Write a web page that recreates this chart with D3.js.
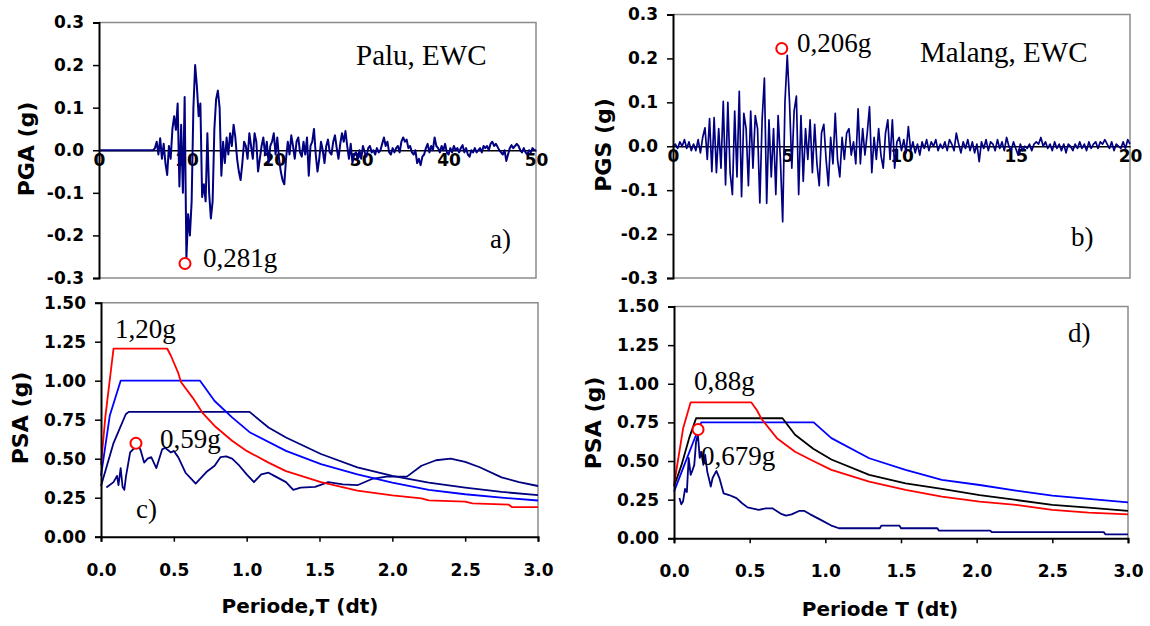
<!DOCTYPE html>
<html>
<head>
<meta charset="utf-8">
<title>Palu / Malang EWC</title>
<script src="https://cdn.jsdelivr.net/npm/d3@7"></script>
<style>
  html, body { margin: 0; padding: 0; background: #fff; }
  svg { display: block; }
  .tick text { font-family: "DejaVu Sans", sans-serif; font-weight: bold; font-size: 17px; fill: #000; }
  .axis-title { font-family: "DejaVu Sans", sans-serif; font-weight: bold; font-size: 20px; fill: #000; }
  .y-title { font-size: 22px; }
  .note { font-family: "Liberation Serif", "Times New Roman", serif; font-size: 27px; fill: #000; }
</style>
</head>
<body>
<div id="chart"></div>
<script>
// ---- a) Palu accelerogram (g), sampled every 0.2 s from 6.0 s; flat zero before
const paluStart = 6.0;
const paluDt = 0.2;
const paluAcc = [
  0, 0, 0.005, 0.02, -0.01, 0.028, -0.02, 0.015, -0.03, -0.058,
  0.01, -0.02, 0.05, 0.08, 0.048, 0.11, -0.085, 0.06, -0.1, 0.125,
  -0.254, -0.15, -0.2, -0.12, 0.1, 0.2, 0.15, 0.08, 0.11, -0.11,
  -0.08, -0.12, 0.04, -0.1, -0.16, -0.12, 0.05, 0.12, 0.14, 0.1,
  -0.06, 0.02, -0.03, 0.03, -0.01, 0.04, 0.01, 0.06, 0.03, -0.02,
  -0.05, -0.07, -0.03, 0.02, 0.01, -0.02, 0.04, 0.01, -0.02, 0.04,
  0.02, -0.05, -0.02, 0.01, 0.03, -0.01, 0.02, -0.03, 0.01, 0.02,
  0.04, -0.01, 0.03, -0.02, -0.05, -0.07, -0.08, -0.02, 0.02, -0.01,
  0.035, 0.01, -0.02, 0.02, 0.03, -0.005, -0.015, 0.02, -0.01, 0.03,
  -0.06, 0.01, 0.02, 0.05, -0.01, -0.05, -0.02, 0.02, 0.0, -0.03,
  0.01, 0.025, -0.005, -0.01, 0.02, 0.035, 0.005, -0.02, 0.015, 0.04,
  0.02, 0.045, 0.01, -0.02, 0.015, -0.03, -0.01, -0.005, -0.02, 0.0,
  -0.02, 0.01, -0.005, -0.015, 0.005, 0.01, -0.005, 0.0, -0.01, 0.005,
  -0.005, 0.0, 0.015, 0.03, 0.01, 0.02, -0.005, -0.01, 0.005, -0.005,
  0.005, 0.01, -0.005, 0.02, 0.03, 0.02, 0.025, 0.005, 0.01, -0.005,
  -0.01, 0.0, -0.03, -0.02, -0.035, -0.015, -0.01, 0.005, 0.015, -0.005,
  0.01, 0.0, 0.03, 0.01, 0.005, -0.005, 0.01, 0.0, 0.015, -0.005,
  -0.01, 0.005, -0.005, 0.01, 0.0, 0.005, -0.005, 0.005, 0.012, -0.005,
  0.005, -0.01, -0.015, 0.0, -0.005, 0.005, -0.005, 0.0, 0.005, -0.005,
  0.01, 0.005, 0.01, 0.0, 0.015, 0.02, 0.01, 0.015, 0.008, 0.0,
  -0.005, -0.01, 0.0, -0.025, -0.01, 0.005, 0.012, 0.005, 0.01, 0.015,
  0.01, 0.0, -0.005, 0.005, -0.005, -0.01, 0.0, -0.005, 0.005, 0.0,
  0.0
];

// ---- b) Malang accelerogram (g), sampled every 0.1 s from 0 s
const malangDt = 0.1;
const malangAcc = [
  0.0, 0.005, -0.005, 0.01, 0.0, 0.015, -0.005, 0.01, -0.01, 0.005,
  -0.01, 0.015, -0.015, 0.02, 0.042, -0.03, 0.063, -0.058, 0.065, -0.06,
  0.04, -0.05, 0.102, -0.088, 0.1, -0.06, -0.11, 0.08, -0.07, 0.125,
  -0.115, 0.075, 0.04, -0.09, 0.08, -0.05, 0.07, 0.04, -0.129, 0.06,
  0.155, -0.13, 0.06, -0.07, 0.04, -0.11, 0.07, -0.03, -0.172, 0.1,
  0.207, 0.1, -0.05, 0.08, 0.114, -0.11, 0.07, -0.08, 0.04, -0.03,
  0.06, -0.06, 0.05, -0.04, -0.09, 0.03, 0.05, -0.03, -0.09, 0.02,
  -0.04, 0.075, -0.03, -0.07, 0.02, -0.03, 0.03, 0.04, -0.02, 0.01,
  -0.04, 0.085, -0.04, 0.04, -0.02, 0.03, 0.09, -0.06, 0.02, -0.03,
  0.04, -0.02, -0.05, 0.03, 0.06, -0.03, 0.06, -0.05, 0.01, 0.02,
  -0.01, 0.015, -0.015, 0.045, -0.01, 0.01, -0.015, 0.005, -0.02, 0.01,
  -0.005, 0.015, -0.01, 0.01, 0.0, 0.015, -0.01, 0.005, -0.005, 0.01,
  -0.01, 0.015, 0.005, -0.01, 0.03, 0.005, -0.015, 0.01, -0.005, 0.015,
  -0.01, 0.01, -0.015, 0.005, -0.035, 0.01, -0.005, 0.015, -0.01, 0.01,
  0.005, -0.01, 0.015, -0.005, 0.01, -0.01, 0.02, 0.0, -0.01, 0.01,
  -0.005, -0.02, 0.005, -0.01, 0.0, -0.005, 0.005, -0.01, 0.005, 0.01,
  0.005, 0.02, 0.0, 0.01, -0.005, 0.005, -0.01, 0.01, -0.005, 0.005,
  -0.01, 0.005, -0.015, 0.005, 0.0, -0.01, 0.005, -0.005, 0.01, -0.005,
  0.005, -0.01, 0.01, -0.005, 0.005, 0.01, -0.005, 0.01, 0.005, 0.015,
  0.005, -0.005, 0.01, -0.01, 0.005, 0.0, -0.005, 0.01, -0.005, 0.015,
  0.005
];

// ---- c) Palu spectra [period T, PSA g]
const paluDesign120 = [[0,0.46],[0.03,0.77],[0.086,1.205],[0.455,1.205],[0.48,1.16],[0.53,1.05],[0.55,0.99],[0.63,0.89],[0.70,0.79],[0.78,0.71],[0.9,0.615],[1.0,0.55],[1.15,0.475],[1.27,0.42],[1.51,0.35],[1.76,0.295],[2.0,0.265],[2.2,0.245],[2.25,0.233],[2.5,0.225],[2.55,0.214],[2.8,0.205],[2.82,0.19],[3.0,0.19]];
const paluDesign100 = [[0,0.39],[0.06,0.775],[0.135,1.0],[0.68,1.0],[0.78,0.87],[0.9,0.765],[1.02,0.67],[1.27,0.55],[1.51,0.465],[1.76,0.40],[2.0,0.347],[2.25,0.30],[2.5,0.272],[2.75,0.25],[3.0,0.232]];
const paluDesign080 = [[0,0.325],[0.086,0.6],[0.17,0.785],[0.19,0.80],[1.02,0.80],[1.15,0.70],[1.27,0.636],[1.51,0.53],[1.76,0.445],[2.0,0.39],[2.25,0.347],[2.5,0.315],[2.75,0.287],[3.0,0.266]];
const paluResponse = [[0.037,0.315],[0.086,0.35],[0.11,0.39],[0.12,0.33],[0.135,0.44],[0.148,0.32],[0.16,0.30],[0.172,0.39],[0.2,0.54],[0.22,0.56],[0.245,0.59],[0.27,0.56],[0.296,0.475],[0.32,0.50],[0.345,0.51],[0.38,0.44],[0.42,0.56],[0.44,0.57],[0.48,0.54],[0.5,0.55],[0.53,0.51],[0.58,0.41],[0.62,0.37],[0.65,0.34],[0.68,0.37],[0.73,0.42],[0.78,0.455],[0.82,0.51],[0.86,0.515],[0.9,0.50],[0.95,0.455],[1.0,0.40],[1.05,0.35],[1.1,0.40],[1.15,0.41],[1.19,0.39],[1.27,0.35],[1.32,0.30],[1.37,0.315],[1.47,0.32],[1.56,0.35],[1.66,0.336],[1.76,0.33],[1.86,0.37],[1.96,0.385],[2.1,0.385],[2.2,0.455],[2.3,0.49],[2.4,0.50],[2.5,0.48],[2.6,0.445],[2.75,0.38],[2.87,0.35],[3.0,0.325]];

// ---- d) Malang spectra [period T, PSA g]
const malangDesign088 = [[0,0.345],[0.06,0.71],[0.11,0.88],[0.51,0.88],[0.547,0.83],[0.58,0.77],[0.68,0.648],[0.8,0.56],[0.92,0.5],[1.04,0.443],[1.29,0.367],[1.53,0.313],[1.77,0.27],[2.02,0.237],[2.26,0.216],[2.5,0.184],[2.74,0.166],[3.0,0.155]];
const malangDesign078 = [[0,0.335],[0.05,0.475],[0.1,0.648],[0.146,0.777],[0.717,0.777],[0.8,0.67],[0.92,0.58],[1.04,0.51],[1.29,0.41],[1.53,0.356],[1.77,0.32],[2.02,0.28],[2.26,0.248],[2.5,0.216],[2.74,0.199],[3.0,0.177]];
const malangDesign075 = [[0,0.302],[0.073,0.486],[0.146,0.67],[0.18,0.75],[0.923,0.75],[1.04,0.648],[1.29,0.518],[1.53,0.443],[1.77,0.378],[2.02,0.345],[2.26,0.309],[2.5,0.276],[2.74,0.255],[3.0,0.233]];
const malangResponse = [[0.036,0.26],[0.048,0.22],[0.06,0.24],[0.073,0.32],[0.085,0.30],[0.097,0.52],[0.11,0.41],[0.122,0.44],[0.134,0.475],[0.146,0.626],[0.158,0.67],[0.17,0.52],[0.18,0.56],[0.194,0.475],[0.206,0.54],[0.22,0.43],[0.23,0.39],[0.243,0.335],[0.255,0.39],[0.28,0.436],[0.3,0.39],[0.328,0.29],[0.364,0.28],[0.413,0.26],[0.45,0.227],[0.486,0.20],[0.56,0.184],[0.607,0.194],[0.65,0.194],[0.704,0.16],[0.74,0.147],[0.777,0.155],[0.826,0.177],[0.862,0.177],[0.9,0.155],[0.97,0.119],[1.045,0.08],[1.09,0.065],[1.36,0.065],[1.37,0.082],[1.49,0.082],[1.5,0.065],[1.74,0.065],[1.75,0.05],[2.09,0.05],[2.1,0.04],[2.84,0.04],[2.85,0.026],[3.0,0.026]];

// ---- peak markers [x, y]
const paluPeak = [9.84, -0.266];
const malangPeak = [4.76, 0.2226];
const paluPsaPeak = [0.24, 0.599];
const malangPsaPeak = [0.159, 0.704];

// ---- tick values
const accTicks = [-0.3, -0.2, -0.1, 0.0, 0.1, 0.2, 0.3];
const psaTicks = [0, 0.25, 0.5, 0.75, 1.0, 1.25, 1.5];
const paluTimeTicks = [0, 10, 20, 30, 40, 50];
const malangTimeTicks = [0, 5, 10, 15, 20];
const periodTicks = [0, 0.5, 1.0, 1.5, 2.0, 2.5, 3.0];

const NAVY = "#000080", RED = "#ff0000", BLUE = "#0000ff", BLACK = "#000000";

const svg = d3.select("#chart").append("svg")
  .attr("width", 1150).attr("height", 626);
svg.append("rect").attr("width", 1150).attr("height", 626).attr("fill", "#fff");

const paluPoints = [[0, 0]].concat(paluAcc.map((v, i) => [paluStart + i * paluDt, v]));
const malangPoints = malangAcc.map((v, i) => [i * malangDt, v]);

const panels = [
  {
    left: 99, right: 536, top: 22.5, bottom: 278, xAtZero: true,
    xDomain: [0, 50], yDomain: [-0.3, 0.3],
    xTicks: paluTimeTicks, xFormat: d => String(d),
    yTicks: accTicks, yFormat: d => d.toFixed(1),
    yTitle: "PGA (g)", yTitlePos: [26, 149],
    series: [{ points: paluPoints, color: NAVY, width: 2 }],
    peak: paluPeak,
    notes: [["Palu, EWC", 356, 65, 29], ["a)", 490, 248, 27], ["0,281g", 203, 267, 27]]
  },
  {
    left: 673, right: 1130, top: 14.5, bottom: 278, xAtZero: true,
    xDomain: [0, 20], yDomain: [-0.3, 0.3],
    xTicks: malangTimeTicks, xFormat: d => String(d),
    yTicks: accTicks, yFormat: d => d.toFixed(1),
    yTitle: "PGS (g)", yTitlePos: [603, 145],
    series: [{ points: malangPoints, color: NAVY, width: 1.7 }],
    peak: malangPeak,
    notes: [["Malang, EWC", 920, 62, 29], ["b)", 1071, 246, 27], ["0,206g", 797, 52, 27]]
  },
  {
    left: 101, right: 538, top: 302.7, bottom: 536.7, xAtZero: false,
    xDomain: [0, 3], yDomain: [0, 1.5],
    xTicks: periodTicks, xFormat: d => d.toFixed(1),
    yTicks: psaTicks, yFormat: d => d.toFixed(2),
    yTitle: "PSA (g)", yTitlePos: [20, 418],
    xTitle: "Periode,T (dt)", xTitlePos: [300, 613],
    series: [
      { points: paluResponse, color: NAVY, width: 1.8 },
      { points: paluDesign080, color: NAVY, width: 1.8 },
      { points: paluDesign100, color: BLUE, width: 1.8 },
      { points: paluDesign120, color: RED, width: 1.8 }
    ],
    peak: paluPsaPeak,
    notes: [["1,20g", 115, 338, 27], ["0,59g", 160, 448, 27], ["c)", 136, 518, 27]]
  },
  {
    left: 674, right: 1128, top: 306.5, bottom: 538.3, xAtZero: false,
    xDomain: [0, 3], yDomain: [0, 1.5],
    xTicks: periodTicks, xFormat: d => d.toFixed(1),
    yTicks: psaTicks, yFormat: d => d.toFixed(2),
    yTitle: "PSA (g)", yTitlePos: [593, 423],
    xTitle: "Periode T (dt)", xTitlePos: [880, 616],
    series: [
      { points: malangResponse, color: NAVY, width: 1.8 },
      { points: malangDesign075, color: BLUE, width: 1.8 },
      { points: malangDesign078, color: BLACK, width: 1.8 },
      { points: malangDesign088, color: RED, width: 1.8 }
    ],
    peak: malangPsaPeak,
    notes: [["d)", 1068, 342, 27], ["0,88g", 694, 390, 27], ["0,679g", 701, 465, 27]]
  }
];

function drawPanel(p) {
  const x = d3.scaleLinear().domain(p.xDomain).range([p.left, p.right]);
  const y = d3.scaleLinear().domain(p.yDomain).range([p.bottom, p.top]);
  const g = svg.append("g");

  // grey frame on the open sides
  const frame = p.xAtZero
    ? `M${p.left},${p.top}H${p.right}V${p.bottom}H${p.left}`
    : `M${p.left},${p.top}H${p.right}V${p.bottom}`;
  g.append("path").attr("d", frame).attr("fill", "none")
    .attr("stroke", "#8c8c8c").attr("stroke-width", 1.5);

  // x axis (at the zero line for the time histories)
  const xAxisY = p.xAtZero ? y(0) : p.bottom;
  const xAxis = p.xAtZero
    ? d3.axisBottom(x).tickValues(p.xTicks).tickFormat(p.xFormat).tickSize(0).tickPadding(4)
    : d3.axisBottom(x).tickValues(p.xTicks).tickFormat(p.xFormat).tickSize(5).tickPadding(22);
  g.append("g")
    .attr("transform", `translate(0,${xAxisY})`)
    .call(xAxis)
    .call(a => a.select(".domain").attr("stroke", "#000").attr("stroke-width", p.xAtZero ? 1.5 : 2))
    .call(a => a.selectAll(".tick line").attr("stroke-width", 1.5));

  // series
  const line = d3.line().x(d => x(d[0])).y(d => y(d[1]));
  p.series.forEach(s => {
    g.append("path").datum(s.points)
      .attr("fill", "none")
      .attr("stroke", s.color)
      .attr("stroke-width", s.width)
      .attr("stroke-linejoin", "round")
      .attr("d", line);
  });

  // y axis
  g.append("g")
    .attr("transform", `translate(${p.left},0)`)
    .call(d3.axisLeft(y).tickValues(p.yTicks).tickFormat(p.yFormat).tickSize(6).tickPadding(9))
    .call(a => a.select(".domain").attr("stroke", "#000").attr("stroke-width", 2))
    .call(a => a.selectAll(".tick line").attr("stroke-width", 1.5));

  // axis titles
  g.append("text").attr("class", "axis-title y-title")
    .attr("text-anchor", "middle")
    .attr("transform", `translate(${p.yTitlePos[0]},${p.yTitlePos[1]}) rotate(-90)`)
    .attr("dy", "0.36em")
    .text(p.yTitle);
  if (p.xTitle) {
    g.append("text").attr("class", "axis-title")
      .attr("text-anchor", "middle")
      .attr("x", p.xTitlePos[0]).attr("y", p.xTitlePos[1])
      .text(p.xTitle);
  }

  // peak marker
  g.append("circle")
    .attr("cx", x(p.peak[0])).attr("cy", y(p.peak[1])).attr("r", 5.5)
    .attr("fill", "#fff").attr("stroke", RED).attr("stroke-width", 2);

  // annotations
  p.notes.forEach(n => {
    g.append("text").attr("class", "note")
      .attr("x", n[1]).attr("y", n[2])
      .style("font-size", n[3] + "px")
      .text(n[0]);
  });
}

panels.forEach(drawPanel);
</script>
</body>
</html>
